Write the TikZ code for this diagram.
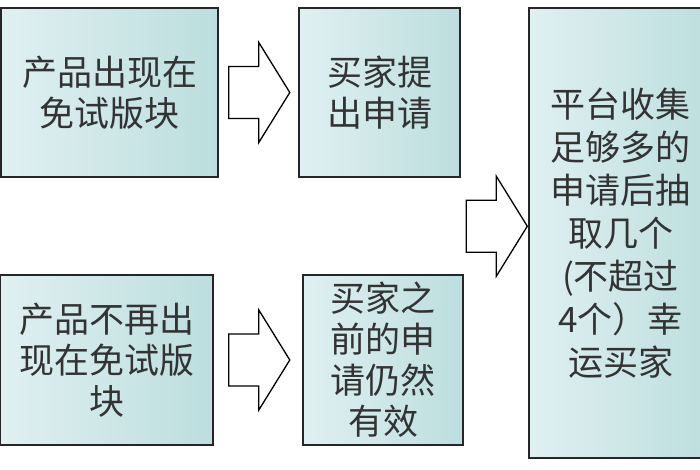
\documentclass[tikz,border=0pt]{standalone}
\usepackage{fontspec}
\newfontfamily\cjk{Noto Sans CJK SC}
\usetikzlibrary{calc}
\definecolor{boxlight}{HTML}{E0F0F1}
\definecolor{boxdark}{HTML}{BCDEDE}
\definecolor{ink}{HTML}{333333}
\tikzset{
  stepbox/.style={draw=black!85, line width=1.6pt, left color=boxlight, right color=boxdark,
    align=center, text=ink, inner sep=0pt, font=\cjk\fontsize{35}{41}\selectfont},
  fatarrow/.pic={
    \draw[line width=1.3pt, fill=white] (0,-26) -- (30,-26) -- (30,-50) -- (61,0)
      -- (30,50) -- (30,26) -- (0,26) -- cycle;
  }
}
\begin{document}
\begin{tikzpicture}[x=1pt, y=-1pt]
  \useasboundingbox (0,0) rectangle (700,470);
  \clip (0,0) rectangle (700,470);
  \node[stepbox, minimum width=217pt, minimum height=169pt] (shown) at (109.5,92.5) {产品出现在\\免试版块};
  \node[stepbox, minimum width=161pt, minimum height=169pt] (apply) at (379.5,92.5) {买家提\\出申请};
  \node[stepbox, minimum width=213pt, minimum height=170pt] (gone) at (106.5,360) {产品不再出\\现在免试版\\块};
  \node[stepbox, minimum width=160pt, minimum height=170pt] (valid) at (383,360) {买家之\\前的申\\请仍然\\有效};
  \node[stepbox, minimum width=183pt, minimum height=450pt, font=\cjk\fontsize{35}{43}\selectfont] (lucky) at (620.5,233)
    {平台收集\\足够多的\\申请后抽\\取几个\\(不超过\\4个）幸\\运买家};
  \pic at ($(shown.east)+(10,0)$) {fatarrow};
  \pic at ($(gone.east)+(15,0)$) {fatarrow};
  \pic at ($(apply.east)!0.5!(valid.east)+(4,0)$) {fatarrow};
\end{tikzpicture}
\end{document}
